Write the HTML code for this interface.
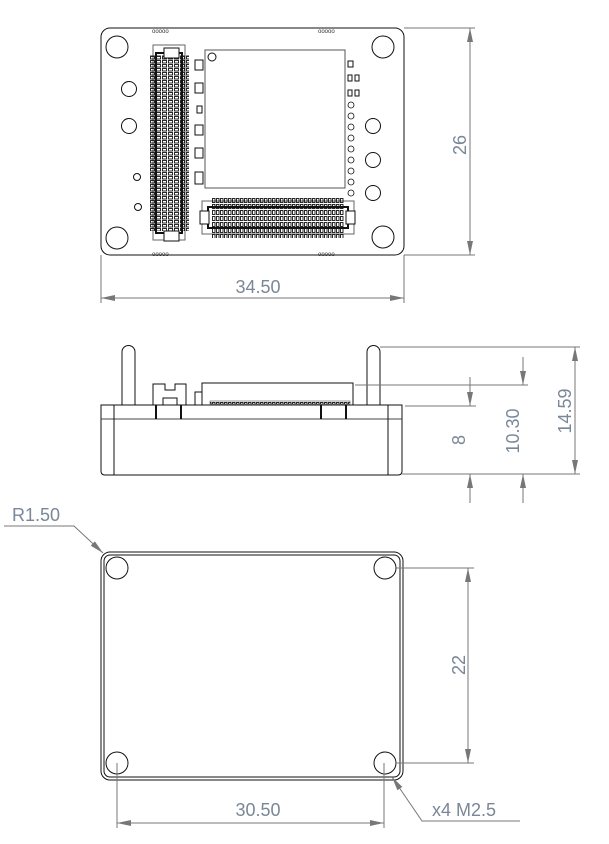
<!DOCTYPE html>
<html><head><style>html,body{margin:0;padding:0;background:#fff}svg{display:block}</style></head><body>
<svg width="609" height="844" viewBox="0 0 609 844" xmlns="http://www.w3.org/2000/svg" font-family="Liberation Sans, sans-serif">
<defs>
<pattern id="pinsV" x="0" y="0" width="6" height="4" patternUnits="userSpaceOnUse"><rect x="0.5" y="0.5" width="4" height="2.5" fill="none" stroke="#111" stroke-width="0.9"/></pattern>
<pattern id="pinsH" x="0" y="0" width="4" height="6" patternUnits="userSpaceOnUse"><rect x="0.5" y="0.5" width="2.5" height="4" fill="none" stroke="#111" stroke-width="0.9"/></pattern>
<marker id="ar" viewBox="0 0 14 6" refX="14" refY="3" markerWidth="14" markerHeight="6" orient="auto-start-reverse" markerUnits="userSpaceOnUse"><path d="M0,0 L14,3 L0,6 Z" fill="#777"/></marker>
</defs>
<g fill="none" stroke="#111" stroke-width="1">
<!-- TOP VIEW -->
<rect x="101" y="28" width="303" height="227" rx="9"/>
<circle cx="117" cy="47" r="11"/><circle cx="383" cy="47" r="11"/>
<circle cx="117" cy="238" r="11"/><circle cx="383" cy="237" r="11"/>
<circle cx="129" cy="89" r="7.5"/><circle cx="129" cy="126" r="7.5"/>
<circle cx="137" cy="177" r="3.5"/><circle cx="138" cy="207" r="3.5"/>
<circle cx="373" cy="126" r="7.5"/><circle cx="373" cy="160" r="7.5"/><circle cx="373" cy="193" r="7.5"/>
<rect x="153" y="45" width="32" height="195" stroke="#666"/>
<rect x="156" y="53" width="26" height="180" stroke-width="2"/>
<rect x="149" y="55" width="40" height="176" fill="url(#pinsV)" stroke="none"/>
<rect x="164" y="48" width="15" height="10" fill="#fff"/>
<rect x="164" y="231" width="15" height="10" fill="#fff"/>
<rect x="205" y="50" width="140" height="138" stroke="#555"/>
<circle cx="212" cy="57" r="4"/>
<rect x="195" y="60" width="8" height="10"/><rect x="195" y="83" width="8" height="10"/>
<rect x="197" y="106" width="5" height="7"/><rect x="195" y="125" width="8" height="10"/>
<rect x="195" y="148" width="8" height="10"/><rect x="195" y="172" width="8" height="12"/>
<rect x="348" y="61" width="5" height="6"/><rect x="348" y="75" width="4" height="6"/><rect x="355" y="75" width="4" height="6"/>
<rect x="348" y="90" width="4" height="6"/><rect x="355" y="90" width="4" height="6"/>
<g stroke-width="0.8"><circle cx="351" cy="105" r="3"/><circle cx="351" cy="116" r="3"/><circle cx="351" cy="127" r="3"/><circle cx="351" cy="138" r="3"/><circle cx="351" cy="149" r="3"/><circle cx="351" cy="160" r="3"/><circle cx="351" cy="171" r="3"/><circle cx="351" cy="182" r="3"/><circle cx="351" cy="193" r="3"/></g>
<rect x="202" y="201" width="152" height="33" stroke="#666"/>
<rect x="208" y="207" width="140" height="21" stroke-width="2"/>
<rect x="212" y="197" width="132" height="41" fill="url(#pinsH)" stroke="none"/>
<rect x="200" y="211" width="9" height="13" fill="#fff"/><rect x="346" y="211" width="9" height="13" fill="#fff"/>
</g>
<g font-size="6" fill="#333"><text x="152" y="33">ooooo</text><text x="318" y="33">ooooo</text><text x="152" y="256">ooooo</text><text x="318" y="256">ooooo</text></g>

<!-- SIDE VIEW -->
<g fill="none" stroke="#111" stroke-width="1">
<path d="M122,405 V352 A6.5,6.5 0 0 1 135,352 V405"/>
<path d="M367,405 V352 A6.5,6.5 0 0 1 380,352 V405"/>
<path d="M153,405 V384 H165 V390 H175 V384 H186 V405"/>
<rect x="163" y="398" width="14" height="7"/>
<rect x="195" y="392" width="7" height="13"/>
<rect x="202" y="383" width="151" height="22"/>
<rect x="210" y="401" width="140" height="3" fill="url(#pinsH)" stroke="#333" stroke-width="0.5"/>
<path d="M101,405 H402 V471 Q402,475 398,475 H105 Q101,475 101,471 Z"/>
<line x1="101" y1="419" x2="402" y2="419" stroke="#444"/>
<line x1="114" y1="405" x2="114" y2="475"/><line x1="388" y1="405" x2="388" y2="475"/>
<line x1="156" y1="405" x2="156" y2="419" stroke-width="2"/><line x1="181" y1="405" x2="181" y2="419" stroke-width="2"/>
<line x1="321" y1="405" x2="321" y2="419" stroke-width="2"/><line x1="346" y1="405" x2="346" y2="419" stroke-width="2"/>

<!-- BOTTOM VIEW -->
<rect x="101" y="552" width="302" height="228" rx="9"/>
<rect x="104" y="555" width="296" height="222" rx="6"/>
<circle cx="117" cy="568" r="11"/><circle cx="385" cy="568" r="11"/>
<circle cx="117" cy="763" r="11"/><circle cx="385" cy="763" r="11"/>
</g>

<!-- DIMENSIONS -->
<g stroke="#777" stroke-width="1" fill="none">
<line x1="404" y1="28" x2="475" y2="28"/><line x1="404" y1="255" x2="475" y2="255"/>
<line x1="470" y1="28" x2="470" y2="255" marker-start="url(#ar)" marker-end="url(#ar)"/>
<line x1="101" y1="255" x2="101" y2="303"/><line x1="404" y1="255" x2="404" y2="303"/>
<line x1="101" y1="298" x2="404" y2="298" marker-start="url(#ar)" marker-end="url(#ar)"/>

<line x1="380" y1="347" x2="580" y2="347"/><line x1="355" y1="385" x2="528" y2="385"/>
<line x1="405" y1="406" x2="476" y2="406"/><line x1="402" y1="474" x2="580" y2="474"/>
<line x1="470" y1="377" x2="470" y2="406" marker-end="url(#ar)"/><line x1="470" y1="474" x2="470" y2="503" marker-start="url(#ar)"/>
<line x1="523" y1="357" x2="523" y2="385" marker-end="url(#ar)"/><line x1="523" y1="474" x2="523" y2="503" marker-start="url(#ar)"/>
<line x1="575" y1="347" x2="575" y2="474" marker-start="url(#ar)" marker-end="url(#ar)"/>

<line x1="396" y1="568" x2="474" y2="568"/><line x1="396" y1="763" x2="474" y2="763"/>
<line x1="468" y1="568" x2="468" y2="763" marker-start="url(#ar)" marker-end="url(#ar)"/>
<line x1="117" y1="763" x2="117" y2="828"/><line x1="384" y1="763" x2="384" y2="828"/>
<line x1="117" y1="823" x2="384" y2="823" marker-start="url(#ar)" marker-end="url(#ar)"/>

<polyline points="4,526 74,526 103,553" marker-end="url(#ar)"/>
<polyline points="520,821 422,821 392,777" marker-end="url(#ar)"/>
</g>
<g fill="#7a8797" font-size="18">
<text x="258" y="293" text-anchor="middle">34.50</text>
<text transform="translate(466,145) rotate(-90)" text-anchor="middle">26</text>
<text transform="translate(465,440) rotate(-90)" text-anchor="middle">8</text>
<text transform="translate(519,431) rotate(-90)" text-anchor="middle">10.30</text>
<text transform="translate(571,411) rotate(-90)" text-anchor="middle">14.59</text>
<text transform="translate(465,665) rotate(-90)" text-anchor="middle">22</text>
<text x="258" y="816" text-anchor="middle">30.50</text>
<text x="12" y="521">R1.50</text>
<text x="432" y="816">x4 M2.5</text>
</g>
</svg>
</body></html>
